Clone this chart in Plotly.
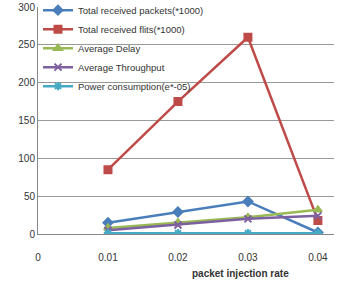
import plotly.graph_objects as go

x = [0.01, 0.02, 0.03, 0.04]
packets = [15, 29, 43, 2]
flits = [85, 175, 260, 18]
delay = [8, 15, 22, 32]
throughput = [5, 12, 20, 24]
power = [1, 1, 1, 1]

names = ["Total received packets(*1000)", "Total received flits(*1000)", "Average Delay",
         "Average Throughput", "Power consumption(e*-05)"]
series = [packets, flits, delay, throughput, power]
colors = ["#4A7EBB", "#BE4B48", "#98B954", "#7D60A0", "#46AAC5"]
symbols = ["diamond", "square", "triangle-up", "x-thin-open", "asterisk-open"]

fig = go.Figure()
for n, s, c, sym in zip(names, series, colors, symbols):
    fig.add_trace(go.Scatter(x=x, y=s, name=n, mode="lines+markers",
                             line=dict(color=c, width=2.5),
                             marker=dict(symbol=sym, size=7, color=c, line=dict(color=c, width=2)),
                             legendgroup=n))

fig.update_layout(
    width=339, height=286,
    margin=dict(l=38, r=5, t=7, b=52, autoexpand=False),
    paper_bgcolor="white", plot_bgcolor="white",
    font=dict(family="Arial", size=10, color="#333"),
    showlegend=True,
    legend=dict(x=0.0, y=1.05, xanchor="left", yanchor="top", bgcolor="rgba(0,0,0,0)",
                font=dict(size=9.5, color="#333"), tracegroupgap=0, itemwidth=30),
    xaxis=dict(range=[0, 0.0423], tickvals=[0, 0.01, 0.02, 0.03, 0.04],
               ticktext=["0", "0.01", "0.02", "0.03", "0.04"],
               showgrid=False, showline=True, linecolor="#888", linewidth=1,
               zeroline=False, ticks="", tickfont=dict(size=10), ticklabelstandoff=14),
    yaxis=dict(range=[0, 300], tickvals=[0, 50, 100, 150, 200, 250, 300],
               showgrid=True, gridcolor="#999", gridwidth=1,
               showline=True, linecolor="#888", zeroline=False, ticks="",
               tickfont=dict(size=10)),
    annotations=[dict(text="<b>packet injection rate</b>", x=(240-38)/(339-38-5), y=-(273-234)/(286-7-52),
                      xref="paper", yref="paper", xanchor="center", yanchor="middle",
                      showarrow=False, font=dict(size=10, color="#333"))],
)
fig.write_html("out.html")
